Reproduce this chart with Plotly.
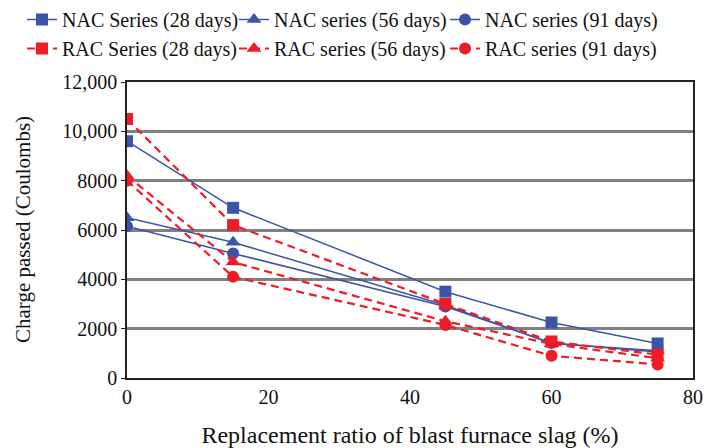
import plotly.graph_objects as go

# Replacement ratio of blast furnace slag (%)
slag_ratio = [0, 15, 45, 60, 75]

# Charge passed (Coulombs) per series
nac_28 = [9600, 6900, 3500, 2250, 1400]
nac_56 = [6500, 5500, 2950, 1400, 1100]
nac_91 = [6150, 5050, 2900, 1420, 1050]
rac_28 = [10500, 6200, 3000, 1480, 950]
rac_56 = [8200, 4700, 2300, 1380, 800]
rac_91 = [8000, 4100, 2150, 900, 550]

series_names = [
    "NAC Series (28 days)", "NAC series (56 days)", "NAC series (91 days)",
    "RAC Series (28 days)", "RAC series (56 days)", "RAC series (91 days)",
]

y_tick_vals = [0, 2000, 4000, 6000, 8000, 10000, 12000]
y_tick_text = ["0", "2000", "4000", "6000", "8000", "10,000", "12,000"]
x_tick_vals = [0, 20, 40, 60, 80]

X_TITLE = "Replacement ratio of blast furnace slag (%)"
Y_TITLE = "Charge passed (Coulombs)"

BLUE = "#3a55a8"
RED = "#ee1c24"
FONT = "Liberation Serif, Times New Roman, serif"
FS = 20

W, H = 706, 448
ML, MR, MT, MB = 127, 13, 82, 70

fig = go.Figure()

# (values, colour, marker, dash, width, legend column)
styles = [
    (nac_28, BLUE, "square", "solid", 1.5, "legend"),
    (nac_56, BLUE, "triangle-up", "solid", 1.5, "legend2"),
    (nac_91, BLUE, "circle", "solid", 1.5, "legend3"),
    (rac_28, RED, "square", "8px,5px", 2.2, "legend"),
    (rac_56, RED, "triangle-up", "8px,5px", 2.2, "legend2"),
    (rac_91, RED, "circle", "8px,5px", 2.2, "legend3"),
]

for name, (vals, color, symbol, dash, lw, leg) in zip(series_names, styles):
    fig.add_trace(go.Scatter(
        x=slag_ratio, y=vals, name=name, mode="lines+markers",
        line=dict(color=color, width=lw, dash=dash),
        marker=dict(color=color, symbol=symbol,
                    size=12 if symbol != "triangle-up" else 13),
        legend=leg,
    ))


def legend_column(x_px):
    return dict(
        orientation="v", x=x_px / W, xref="container", y=1.0, yref="container",
        xanchor="left", yanchor="top", itemwidth=30, tracegroupgap=0,
        font=dict(family=FONT, size=FS, color="#111111"),
        bgcolor="rgba(0,0,0,0)", traceorder="normal",
    )


fig.update_layout(
    width=W, height=H,
    margin=dict(l=ML, r=MR, t=MT, b=MB, autoexpand=False),
    paper_bgcolor="white", plot_bgcolor="white",
    font=dict(family=FONT, size=FS, color="#111111"),
    showlegend=True,
    legend=legend_column(22),
    legend2=legend_column(234),
    legend3=legend_column(445),
    xaxis=dict(
        range=[0, 80], tickvals=x_tick_vals, showgrid=False, zeroline=False,
        showline=True, linecolor="#222222", linewidth=1.5, mirror=True,
        ticks="", title=dict(text=X_TITLE, standoff=20),
    ),
    yaxis=dict(
        range=[0, 12000], tickvals=y_tick_vals, ticktext=y_tick_text,
        showgrid=True, gridcolor="#808080", gridwidth=2.5, zeroline=False,
        showline=True, linecolor="#222222", linewidth=1.5, mirror=True,
        ticks="outside", ticklen=4, tickcolor="#222222",
    ),
    annotations=[dict(
        text=Y_TITLE, textangle=-90, showarrow=False,
        xref="paper", yref="paper",
        x=(23 - ML) / (W - ML - MR), y=0.5,
        xanchor="center", yanchor="middle",
        font=dict(family=FONT, size=21, color="#111111"),
    )],
)

fig.write_html("out.html")
